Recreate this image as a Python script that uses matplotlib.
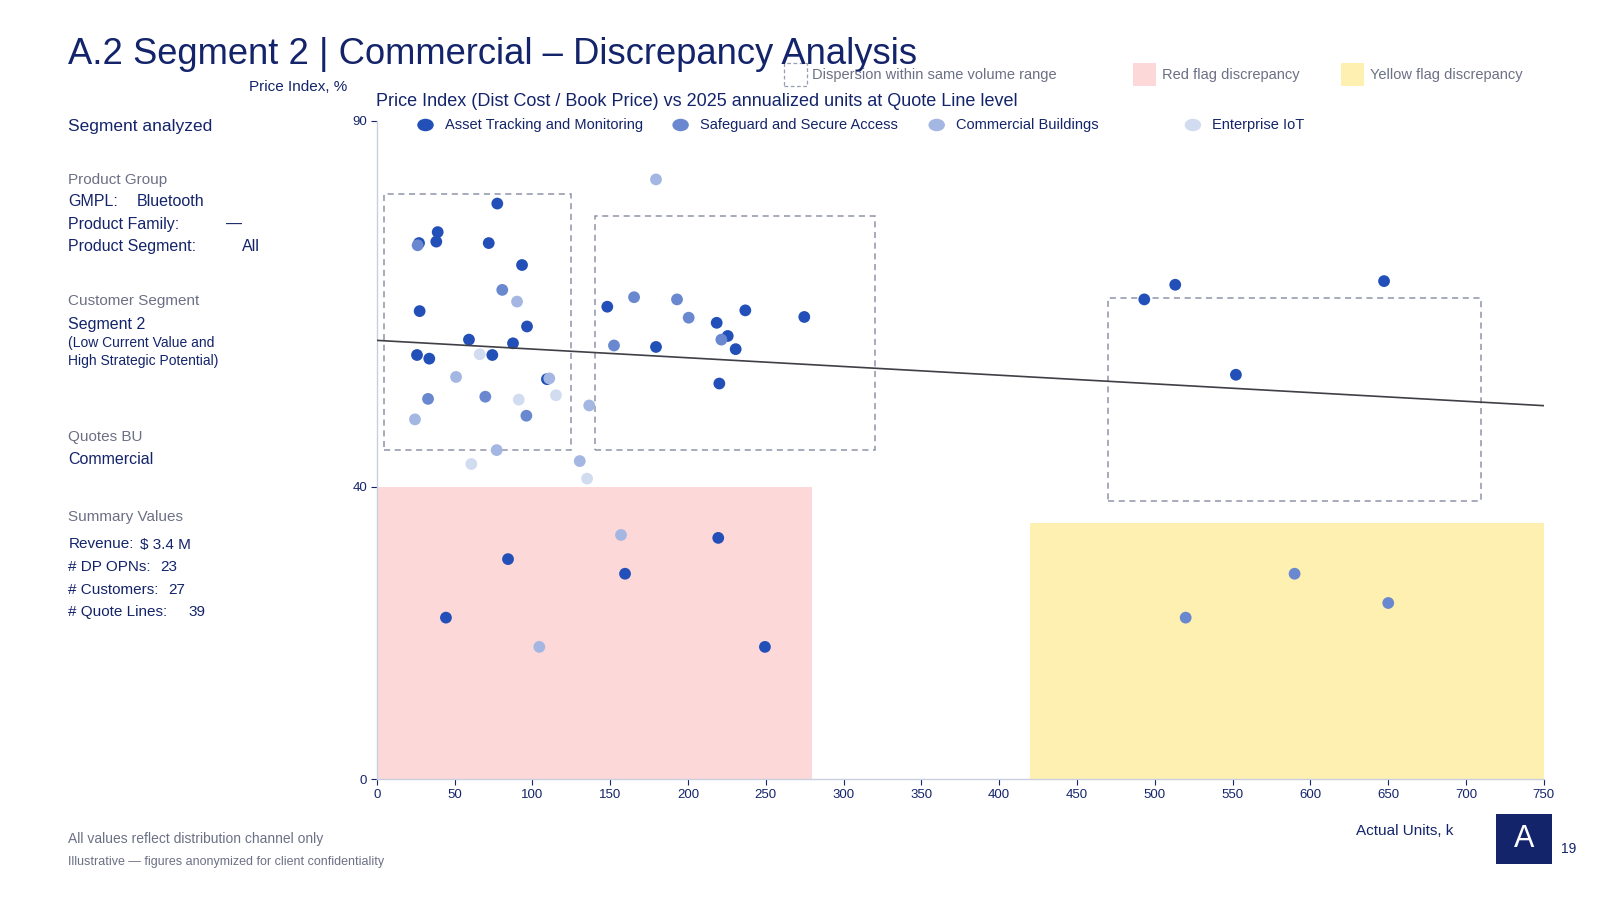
import matplotlib
matplotlib.use("Agg")
import matplotlib.pyplot as plt
from matplotlib.patches import Rectangle, Ellipse

plt.rcParams['font.family'] = ['Liberation Sans', 'DejaVu Sans']

NAVY = '#14246A'
GRAY = '#6B7085'

# series data (units k, price index %)
series_names = ['Asset Tracking and Monitoring', 'Safeguard and Secure Access',
                'Commercial Buildings', 'Enterprise IoT']
series_colors = ['#2350B8', '#6A88CF', '#A4B6E2', '#D2DCF0']

asset_x = [77.5, 39.2, 38.3, 27.2, 72.0, 93.4, 27.6, 96.6, 59.3, 87.6, 25.9, 33.8, 74.3, 109.4,
           148.2, 218.5, 236.9, 274.8, 179.5, 225.6, 230.7, 220.2,
           493.3, 513.2, 647.4, 552.2,
           44.5, 84.4, 159.6, 219.5, 249.5]
asset_y = [78.7, 74.8, 73.5, 73.3, 73.3, 70.3, 64.0, 61.9, 60.1, 59.6, 58.0, 57.5, 58.0, 54.7,
           64.6, 62.4, 64.1, 63.2, 59.1, 60.6, 58.8, 54.1,
           65.6, 67.6, 68.1, 55.3,
           22.1, 30.1, 28.1, 33.0, 18.1]

safe_x = [26.3, 80.7, 33.0, 69.8, 96.2, 165.4, 193.0, 200.5, 152.5, 221.5, 519.9, 589.9, 650.1]
safe_y = [73.0, 66.9, 52.0, 52.3, 49.7, 65.9, 65.6, 63.1, 59.3, 60.1, 22.1, 28.1, 24.1]

bldg_x = [179.5, 90.2, 51.0, 110.9, 24.6, 136.6, 77.1, 130.5, 104.5, 157.0]
bldg_y = [82.0, 65.3, 55.0, 54.8, 49.2, 51.1, 45.0, 43.5, 18.1, 33.4]

iot_x = [66.2, 91.3, 115.2, 60.8, 135.2]
iot_y = [58.1, 51.9, 52.5, 43.1, 41.1]

series_x = [asset_x, safe_x, bldg_x, iot_x]
series_y = [asset_y, safe_y, bldg_y, iot_y]

# trend line
trend_intercept = 60.0
trend_slope = -0.0119

# flag zones (x0, x1, y0, y1)
red_zone = (0, 280, 0, 40)
yellow_zone = (420, 750, 0, 35)
# dispersion boxes (x0, x1, y0, y1)
disp_boxes = [(5, 125, 45, 80), (140, 320, 45, 77), (470, 710, 38, 65.8)]

x_ticks = list(range(0, 751, 50))
y_ticks = [0, 40, 90]

fig = plt.figure(figsize=(16, 9), dpi=100)
ax = fig.add_axes([376.7 / 1600, 1 - 779.3 / 900, (1543.7 - 376.7) / 1600, (779.3 - 120.9) / 900])

for (x0, x1, y0, y1), col in [(red_zone, '#FDD8D8'), (yellow_zone, '#FEF0B0')]:
    ax.add_patch(Rectangle((x0, y0), x1 - x0, y1 - y0, facecolor=col, edgecolor='none', zorder=0))

for x0, x1, y0, y1 in disp_boxes:
    ax.add_patch(Rectangle((x0, y0), x1 - x0, y1 - y0, facecolor='none', edgecolor='#8E93AA',
                           linestyle=(0, (4, 3)), linewidth=1.1, zorder=1))

for xs, ys, col in zip(series_x, series_y, series_colors):
    ax.scatter(xs, ys, s=72, color=col, edgecolors='none', zorder=3)

ax.plot([0, 750], [trend_intercept, trend_intercept + trend_slope * 750], color='#3F3F46',
        linewidth=1.2, zorder=4)

ax.set_xlim(0, 750)
ax.set_ylim(0, 90)
ax.set_xticks(x_ticks)
ax.set_yticks(y_ticks)
ax.tick_params(colors=NAVY, labelsize=9.5, length=4, width=0.8, pad=3)
for s in ['top', 'right']:
    ax.spines[s].set_visible(False)
for s in ['left', 'bottom']:
    ax.spines[s].set_color('#C9CFE0')
    ax.spines[s].set_linewidth(1.0)


def fx(px):
    return px / 1600


def fy(py):
    return 1 - py / 900


# title and headings
fig.text(fx(68), fy(64.5), 'A.2 Segment 2 | Commercial \u2013 Discrepancy Analysis', fontsize=26.2,
         color=NAVY, va='baseline')
fig.text(fx(347), fy(87), 'Price Index, %', fontsize=11, color=NAVY, ha='right', va='center')
fig.text(fx(376.5), fy(102), 'Price Index (Dist Cost / Book Price) vs 2025 annualized units at Quote Line level',
         fontsize=13, color=NAVY, va='center')
fig.text(fx(1453), fy(831), 'Actual Units, k', fontsize=11, color=NAVY, ha='right', va='center')

# series legend
leg_marker_x = [425.5, 680.6, 936.7, 1192.9]
for name, col, mx in zip(series_names, series_colors, leg_marker_x):
    fig.add_artist(Ellipse((fx(mx), fy(125)), 16.5 / 1600, 12.5 / 900, transform=fig.transFigure,
                           facecolor=col, edgecolor='none'))
    fig.text(fx(mx + 19.5), fy(125), name, fontsize=10.5, color=NAVY, va='center')

# flag legend
fig.add_artist(Rectangle((fx(784), fy(86)), 23 / 1600, 23 / 900, transform=fig.transFigure,
                         facecolor='none', edgecolor='#9A9EB2', linestyle=(0, (3, 2)), linewidth=0.9))
fig.text(fx(812), fy(75), 'Dispersion within same volume range', fontsize=10.5, color=GRAY, va='center')
fig.add_artist(Rectangle((fx(1133), fy(86)), 23 / 1600, 23 / 900, transform=fig.transFigure,
                         facecolor='#FDD8D8', edgecolor='none'))
fig.text(fx(1162), fy(75), 'Red flag discrepancy', fontsize=10.5, color=GRAY, va='center')
fig.add_artist(Rectangle((fx(1341), fy(86)), 23 / 1600, 23 / 900, transform=fig.transFigure,
                         facecolor='#FEF0B0', edgecolor='none'))
fig.text(fx(1370), fy(75), 'Yellow flag discrepancy', fontsize=10.5, color=GRAY, va='center')

# left panel
lx = 68.4
fig.text(fx(lx), fy(126), 'Segment analyzed', fontsize=12.5, color=NAVY, va='center')
fig.text(fx(lx), fy(180), 'Product Group', fontsize=11, color=GRAY, va='center')
fig.text(fx(lx), fy(202), 'GMPL:', fontsize=11.5, color=NAVY, va='center')
fig.text(fx(137), fy(202), 'Bluetooth', fontsize=11.5, color=NAVY, va='center')
fig.text(fx(lx), fy(224), 'Product Family:', fontsize=11.5, color=NAVY, va='center')
fig.text(fx(226), fy(224), '\u2014', fontsize=11.5, color=NAVY, va='center')
fig.text(fx(lx), fy(246.5), 'Product Segment:', fontsize=11.5, color=NAVY, va='center')
fig.text(fx(241.5), fy(246.5), 'All', fontsize=11.5, color=NAVY, va='center')

fig.text(fx(lx), fy(301), 'Customer Segment', fontsize=11, color=GRAY, va='center')
fig.text(fx(lx), fy(324), 'Segment 2', fontsize=11.5, color=NAVY, va='center')
fig.text(fx(lx), fy(342.5), '(Low Current Value and', fontsize=10, color=NAVY, va='center')
fig.text(fx(lx), fy(360.5), 'High Strategic Potential)', fontsize=10, color=NAVY, va='center')

fig.text(fx(lx), fy(437), 'Quotes BU', fontsize=11, color=GRAY, va='center')
fig.text(fx(lx), fy(459), 'Commercial', fontsize=11.5, color=NAVY, va='center')

fig.text(fx(lx), fy(517.5), 'Summary Values', fontsize=11, color=GRAY, va='center')
summary_labels = ['Revenue:', '# DP OPNs:', '# Customers:', '# Quote Lines:']
summary_values = ['$ 3.4 M', '23', '27', '39']
summary_val_x = [140, 160.5, 168.5, 188]
summary_row_y = [544.5, 567, 589.5, 612]
for lab, val, vx, ry in zip(summary_labels, summary_values, summary_val_x, summary_row_y):
    fig.text(fx(lx), fy(ry), lab, fontsize=11, color=NAVY, va='center')
    fig.text(fx(vx), fy(ry), val, fontsize=11, color=NAVY, va='center')

# footer
fig.text(fx(lx), fy(839), 'All values reflect distribution channel only', fontsize=10, color=GRAY, va='center')
fig.text(fx(lx), fy(862), 'Illustrative \u2014 figures anonymized for client confidentiality', fontsize=9,
         color=GRAY, va='center')

fig.add_artist(Rectangle((fx(1496), fy(864)), 56 / 1600, 50 / 900, transform=fig.transFigure,
                         facecolor='#13246B', edgecolor='none'))
fig.text(fx(1524), fy(839), 'A', fontsize=22, color='white', ha='center', va='center')
fig.text(fx(1561), fy(849), '19', fontsize=10, color=NAVY, va='center')

fig.savefig('out.png', dpi=100)
